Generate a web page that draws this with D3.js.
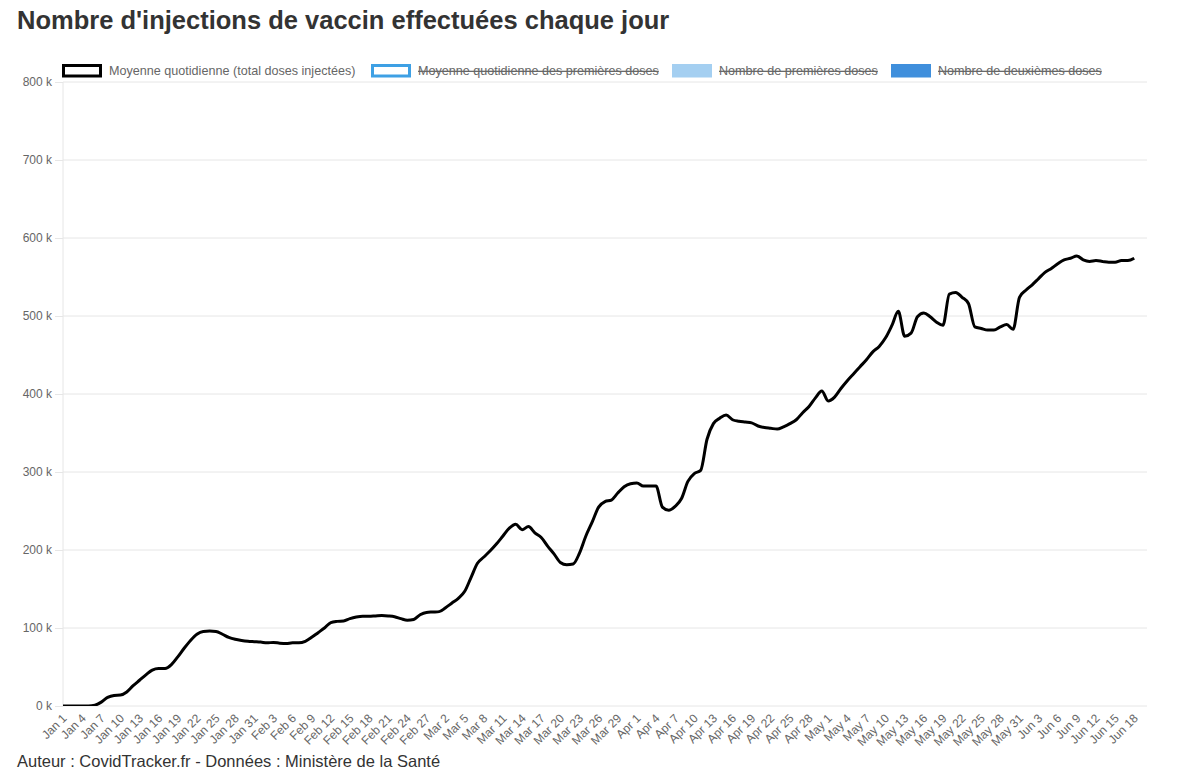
<!DOCTYPE html>
<html><head><meta charset="utf-8">
<script src="https://cdn.jsdelivr.net/npm/d3@7"></script>
<style>
body{margin:0;background:#fff;}
text{font-family:"Liberation Sans",Arial,Helvetica,sans-serif;}
</style></head>
<body><svg id="c" width="1200" height="776"></svg>
<script>
const title = "Nombre d'injections de vaccin effectuées chaque jour";
const footer = "Auteur : CovidTracker.fr - Données : Ministère de la Santé";
const legendLabels = ["Moyenne quotidienne (total doses injectées)", "Moyenne quotidienne des premières doses", "Nombre de premières doses", "Nombre de deuxièmes doses"];
const legendHidden = [false, true, true, true];
const startDate = "2021-01-01";
const endDate = "2021-06-20";
// daily average of total doses (thousands), Jan 1 -> Jun 18
const moyenneTotal = [
0,0,0,0,0,1,5,11,13.5,14,
18,26,33,40,46,48,48,53,63,74,
84,92,95.5,96,95.5,92,88,85.5,84,83,
82.5,82,81,81.5,80.5,80,81,81,83,88,
94,100,107,108.5,109,112,114,115,115,115.5,
116,115.5,114.5,112,110,111,117,120,120.5,121,
126,132,138,147,165,183,191,199,208,218,
228,233,226,230,222,216,205,195,184,181,
182,196,218,236,255,262,264,273,281,285,
286,282,282,282,255,251,256,266,288,298,
302,342,362,369,373,367,365,364,363,359,
357,356,355,358,362,367,376,384,395,404,
391,396,407,417,426,435,444,454,461,472,
488,506,474,478,499,504,499,492,488,528,
530,524,516,486,484,482,482,486,489,483,
524,533,540,548,556,561,567,572,574,577,
572,570,571,570,569,569,571,571,574];
const yTicks = [0,100,200,300,400,500,600,700,800];

const svg = d3.select("#c");
const fmt = d3.timeFormat("%b %-d");
const days = d3.timeDay.range(new Date(startDate+"T00:00:00"), d3.timeDay.offset(new Date(endDate+"T00:00:00"),1));
const labels = days.map(fmt);

const x = d3.scalePoint().domain(labels).range([63,1147]);
const y = d3.scaleLinear().domain([0,800]).range([706,82]);

svg.append("text").attr("x",17).attr("y",29).attr("font-size",25.5).attr("font-weight","bold").attr("fill","#333").text(title);

// grid + y axis
const ya = svg.append("g").attr("transform","translate(63,0)")
  .call(d3.axisLeft(y).tickValues(yTicks).tickSize(8).tickFormat(d=>d+" k"));
ya.select(".domain").remove();
ya.selectAll(".tick line").attr("stroke","#e6e6e6");
ya.selectAll(".tick text").attr("fill","#666").attr("font-size",12).attr("x",-11).attr("font-family","Liberation Sans, Arial, sans-serif");
svg.append("g").selectAll("line").data(yTicks).join("line")
  .attr("x1",63).attr("x2",1147).attr("y1",d=>y(d)).attr("y2",d=>y(d)).attr("stroke","#e6e6e6");
svg.append("line").attr("x1",63).attr("x2",63).attr("y1",82).attr("y2",706).attr("stroke","#e6e6e6");

// x axis
const xTickVals = labels.filter((d,i)=>i%3===0);
const xa = svg.append("g").attr("transform","translate(0,706)")
  .call(d3.axisBottom(x).tickValues(xTickVals).tickSize(0));
xa.select(".domain").remove();
xa.selectAll(".tick text").attr("fill","#666").attr("font-size",12).attr("font-family","Liberation Sans, Arial, sans-serif")
  .attr("text-anchor","end").attr("dy",0).attr("y",0)
  .attr("transform","translate(4,13) rotate(-45)");

// line
svg.append("defs").append("clipPath").attr("id","clip").append("rect").attr("x",63).attr("y",60).attr("width",1090).attr("height",646);
const line = d3.line().x((d,i)=>x(labels[i])).y(d=>y(d)).curve(d3.curveMonotoneX);
svg.append("path").datum(moyenneTotal).attr("d",line).attr("fill","none").attr("stroke","#000").attr("stroke-width",3).attr("stroke-linejoin","round").attr("clip-path","url(#clip)");

// legend
const legendX = [62,371,672,891];
const legendStroke = ["#000","#3ea0e4",null,null];
const legendFill = ["#fff","#fff","#a4cff1","#3f8fdc"];
const lg = svg.append("g");
legendLabels.forEach((lab,i)=>{
  const g = lg.append("g").attr("transform",`translate(${legendX[i]},64)`);
  if(legendStroke[i]) g.append("rect").attr("x",1.5).attr("y",1.5).attr("width",37).attr("height",10.5).attr("fill",legendFill[i]).attr("stroke",legendStroke[i]).attr("stroke-width",3);
  else g.append("rect").attr("x",0).attr("y",0).attr("width",40).attr("height",13.5).attr("fill",legendFill[i]);
  g.append("text").attr("x",47).attr("y",11).attr("font-size",12.6).attr("fill","#666")
    .attr("text-decoration",legendHidden[i]?"line-through":null).text(lab);
});

svg.append("text").attr("x",17).attr("y",767).attr("font-size",16.5).attr("fill","#333").text(footer);
</script></body></html>
